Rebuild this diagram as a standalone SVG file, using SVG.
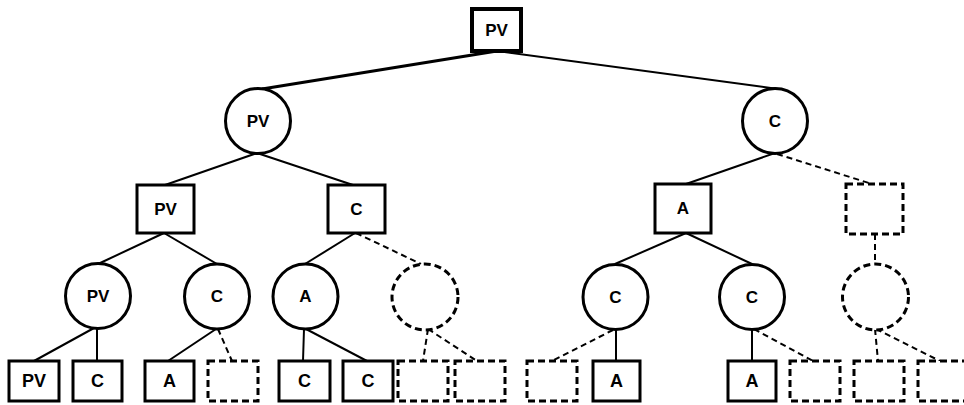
<svg xmlns="http://www.w3.org/2000/svg" width="964" height="405" viewBox="0 0 964 405">
  <style>
    .box { fill: #fff; stroke: #000; stroke-width: 3; }
    .node { fill: #fff; stroke: #000; stroke-width: 3; }
    .ghost { fill: #fff; stroke: #000; stroke-width: 3; stroke-dasharray: 7 4; }
    .edge { fill: none; stroke: #000; stroke-width: 2; }
    .edge-d { fill: none; stroke: #000; stroke-width: 2; stroke-dasharray: 6 4; }
    .lbl { font-family: "Liberation Sans", Arial, sans-serif; font-weight: bold; font-size: 17px; fill: #000; text-anchor: middle; dominant-baseline: central; }
    .leaf { font-size: 18px; }
  </style>
  <rect width="964" height="405" fill="#fff"/>

  <!-- connectors -->
  <g id="edges">
    <line class="edge" x1="497" y1="51" x2="262" y2="89" style="stroke-width:3"/>
    <line class="edge" x1="497" y1="51" x2="778" y2="89"/>

    <line class="edge" x1="257" y1="153" x2="165" y2="185"/>
    <line class="edge" x1="257" y1="153" x2="353" y2="185"/>
    <line class="edge" x1="775" y1="153" x2="686" y2="184"/>
    <line class="edge-d" x1="777" y1="154" x2="872" y2="184"/>

    <line class="edge" x1="164" y1="233" x2="98" y2="264"/>
    <line class="edge" x1="164" y1="233" x2="217" y2="264"/>
    <line class="edge" x1="355" y1="233" x2="305" y2="264"/>
    <line class="edge-d" x1="356" y1="233" x2="421" y2="264"/>
    <line class="edge" x1="686" y1="233" x2="615" y2="264"/>
    <line class="edge" x1="686" y1="233" x2="752" y2="264"/>
    <line class="edge-d" x1="875" y1="234" x2="875" y2="264"/>

    <line class="edge" x1="94" y1="328" x2="34" y2="361"/>
    <line class="edge" x1="97" y1="328" x2="97" y2="361"/>
    <line class="edge" x1="216" y1="329" x2="168" y2="361"/>
    <line class="edge-d" x1="218" y1="329" x2="232" y2="361"/>
    <line class="edge" x1="304" y1="329" x2="303" y2="361"/>
    <line class="edge" x1="306" y1="329" x2="367" y2="361"/>
    <line class="edge-d" x1="428" y1="329" x2="423" y2="361"/>
    <line class="edge-d" x1="428" y1="329" x2="477" y2="361"/>
    <line class="edge-d" x1="613" y1="330" x2="552" y2="361"/>
    <line class="edge" x1="616" y1="330" x2="616" y2="361"/>
    <line class="edge" x1="752" y1="330" x2="752" y2="361"/>
    <line class="edge-d" x1="754" y1="329" x2="813" y2="361"/>
    <line class="edge-d" x1="875" y1="329" x2="878" y2="361"/>
    <line class="edge-d" x1="876" y1="329" x2="940" y2="361"/>
  </g>

  <!-- level 1 -->
  <g id="root"><rect class="box" x="472" y="9" width="49" height="42" style="stroke-width:4"/><text class="lbl" x="496.5" y="30">PV</text></g>

  <!-- level 2 -->
  <g id="n2-pv"><circle class="node" cx="258" cy="121" r="32.5"/><text class="lbl" x="258" y="121">PV</text></g>
  <g id="n2-c"><circle class="node" cx="775" cy="121" r="32.5"/><text class="lbl" x="775" y="121">C</text></g>

  <!-- level 3 -->
  <g id="n3-pv"><rect class="box" x="137" y="185" width="57" height="48"/><text class="lbl" x="165.5" y="209">PV</text></g>
  <g id="n3-c"><rect class="box" x="328" y="185" width="57" height="48"/><text class="lbl" x="356.5" y="209">C</text></g>
  <g id="n3-a"><rect class="box" x="655" y="184" width="56" height="49"/><text class="lbl" x="683" y="208.5">A</text></g>
  <g id="n3-empty"><rect class="ghost" x="846" y="184" width="57" height="50"/></g>

  <!-- level 4 -->
  <g id="n4-pv"><circle class="node" cx="98" cy="296" r="32.5"/><text class="lbl" x="98" y="296">PV</text></g>
  <g id="n4-c1"><circle class="node" cx="217" cy="296.5" r="32.5"/><text class="lbl" x="217" y="296.5">C</text></g>
  <g id="n4-a"><circle class="node" cx="305.5" cy="296.5" r="32.5"/><text class="lbl" x="305.5" y="296.5">A</text></g>
  <g id="n4-empty1"><circle class="ghost" cx="425" cy="297" r="33"/></g>
  <g id="n4-c2"><circle class="node" cx="615.5" cy="297" r="32.5"/><text class="lbl" x="615.5" y="297">C</text></g>
  <g id="n4-c3"><circle class="node" cx="752" cy="297" r="32.5"/><text class="lbl" x="752" y="297">C</text></g>
  <g id="n4-empty2"><circle class="ghost" cx="875.5" cy="297" r="33"/></g>

  <!-- level 5 -->
  <g id="n5-pv"><rect class="box" x="9" y="361" width="50" height="40"/><text class="lbl leaf" x="34" y="381">PV</text></g>
  <g id="n5-c1"><rect class="box" x="73" y="361" width="49" height="40"/><text class="lbl leaf" x="97.5" y="381">C</text></g>
  <g id="n5-a1"><rect class="box" x="145" y="361" width="49" height="40"/><text class="lbl leaf" x="169.5" y="381">A</text></g>
  <g id="n5-e1"><rect class="ghost" x="208" y="361" width="50" height="40"/></g>
  <g id="n5-c2"><rect class="box" x="279" y="361" width="51" height="40"/><text class="lbl leaf" x="304.5" y="381">C</text></g>
  <g id="n5-c3"><rect class="box" x="343" y="361" width="50" height="40"/><text class="lbl leaf" x="368" y="381">C</text></g>
  <g id="n5-e2"><rect class="ghost" x="398" y="361" width="50" height="40"/></g>
  <g id="n5-e3"><rect class="ghost" x="455" y="361" width="50" height="40"/></g>
  <g id="n5-e4"><rect class="ghost" x="527" y="361" width="50" height="40"/></g>
  <g id="n5-a2"><rect class="box" x="593" y="361" width="47" height="40"/><text class="lbl leaf" x="616.5" y="381">A</text></g>
  <g id="n5-a3"><rect class="box" x="728" y="361" width="48" height="40"/><text class="lbl leaf" x="752" y="381">A</text></g>
  <g id="n5-e5"><rect class="ghost" x="790" y="361" width="50" height="40"/></g>
  <g id="n5-e6"><rect class="ghost" x="854" y="361" width="50" height="40"/></g>
  <g id="n5-e7"><rect class="ghost" x="918" y="361" width="50" height="40"/></g>
</svg>
